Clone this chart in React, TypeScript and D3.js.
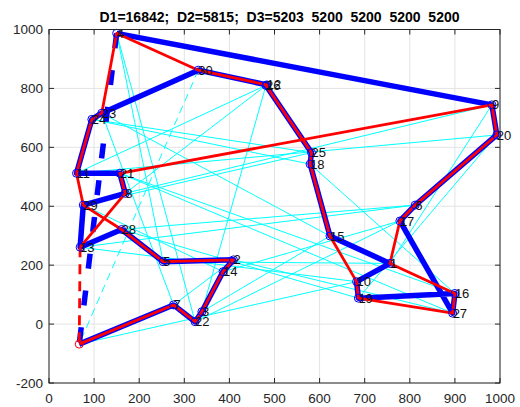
import React from 'react';
import * as d3 from 'd3';

// node coordinates (node 1..30), depot is node 0
const nodeX = [756, 409, 339, 150, 253, 812, 276, 169, 982, 682, 61, 483, 69, 386, 623, 900, 778, 579, 686, 993, 157, 324, 117, 95, 582, 481, 895, 161, 76, 331];
const nodeY = [206, 218, 42, 987, 212, 404, 65, 444, 744, 144, 512, 812, 261, 178, 299, 104, 350, 543, 88, 642, 512, 8, 716, 695, 582, 810, 37, 321, 404, 862];
const depot = [67, -68];

// tours, each starts at the depot; the return leg is drawn dashed
const tourD1 = [0, 10, 13, 6, 28, 19, 20, 11, 12, 8, 9, 1, 5, 4, 22, 17, 14, 29, 25, 24, 18, 16, 21, 27, 2, 7, 23, 15, 3, 26, 30];
const tourD2 = [0, 7, 22, 3, 14, 2, 5, 28, 29, 11, 24, 23, 4, 30, 12, 26, 25, 18, 15, 10, 19, 27, 16, 1, 17, 6, 20, 9, 21, 8, 13];
const tourD3 = [0, 7, 22, 3, 14, 2, 5, 28, 13, 29, 8, 21, 11, 24, 23, 30, 12, 26, 25, 18, 15, 1, 10, 19, 16, 27, 17, 6, 20, 9, 4];

const xTicks = [0, 100, 200, 300, 400, 500, 600, 700, 800, 900, 1000];
const yTicks = [-200, 0, 200, 400, 600, 800, 1000];
const title = 'D1=16842;  D2=5815;  D3=5203  5200  5200  5200  5200';

const W = 520;
const H = 407;
const axisColor = '#262626';
const font = '"Liberation Sans", Arial, Helvetica, sans-serif';

const pt = (id: number) => (id === 0 ? depot : [nodeX[id - 1], nodeY[id - 1]]);

export default function App() {
  const x = d3.scaleLinear().domain([0, 1000]).range([49, 500]);
  const y = d3.scaleLinear().domain([-200, 1000]).range([383, 29.5]);
  const [x0, x1] = x.range();
  const [y0, y1] = y.range();

  const line = d3
    .line<number>()
    .x((id) => x(pt(id)[0]))
    .y((id) => y(pt(id)[1]));

  // open path of the tour + closing leg back to depot
  const tourPaths = (tour: number[]) => ({
    main: line(tour) as string,
    back: line([tour[tour.length - 1], 0]) as string,
  });

  const t1 = tourPaths(tourD1);
  const t2 = tourPaths(tourD2);
  const t3 = tourPaths(tourD3);

  const ids = nodeX.map((_, i) => i + 1);

  return (
    <svg width={W} height={H} style={{ position: 'absolute', left: 0, top: 0, background: '#fff' }}>
      <rect x={0} y={0} width={W} height={H} fill="#fff" />
      {/* grid */}
      <g stroke="#e3e3e3" strokeWidth={1}>
        {xTicks.map((t) => (
          <line key={'gx' + t} x1={x(t)} x2={x(t)} y1={y0} y2={y1} />
        ))}
        {yTicks.map((t) => (
          <line key={'gy' + t} x1={x0} x2={x1} y1={y(t)} y2={y(t)} />
        ))}
      </g>

      {/* D1 tour, thin cyan */}
      <path d={t1.main} fill="none" stroke="#00ffff" strokeWidth={1} />
      <path d={t1.back} fill="none" stroke="#00ffff" strokeWidth={1} strokeDasharray="8 5" />

      {/* D3 tour, thick blue */}
      <path d={t3.main} fill="none" stroke="#0000ff" strokeWidth={5.5} strokeLinejoin="round" />
      <path d={t3.back} fill="none" stroke="#0000ff" strokeWidth={5.5} strokeDasharray="15 22" />

      {/* D2 tour, red */}
      <path d={t2.main} fill="none" stroke="#ff0000" strokeWidth={2.8} strokeLinejoin="round" />
      <path d={t2.back} fill="none" stroke="#ff0000" strokeWidth={2.8} strokeDasharray="10 7" />

      {/* markers */}
      {ids.map((id) => (
        <circle key={'c' + id} cx={x(pt(id)[0])} cy={y(pt(id)[1])} r={4} fill="none" stroke="#0000ff" strokeWidth={1} />
      ))}
      <circle cx={x(depot[0])} cy={y(depot[1])} r={4} fill="none" stroke="#ff0000" strokeWidth={1} />

      {/* node numbers */}
      <g fontFamily={font} fontSize={13} fill="#111">
        {ids.map((id) => (
          <text key={'t' + id} x={x(pt(id)[0])} y={y(pt(id)[1])} dy="0.35em">
            {id}
          </text>
        ))}
      </g>

      {/* axes box with inward ticks */}
      <rect x={x0} y={y1} width={x1 - x0} height={y0 - y1} fill="none" stroke={axisColor} strokeWidth={1} />
      <g stroke={axisColor} strokeWidth={1}>
        {xTicks.map((t) => (
          <g key={'tx' + t}>
            <line x1={x(t)} x2={x(t)} y1={y0} y2={y0 - 5} />
            <line x1={x(t)} x2={x(t)} y1={y1} y2={y1 + 5} />
          </g>
        ))}
        {yTicks.map((t) => (
          <g key={'ty' + t}>
            <line x1={x0} x2={x0 + 5} y1={y(t)} y2={y(t)} />
            <line x1={x1} x2={x1 - 5} y1={y(t)} y2={y(t)} />
          </g>
        ))}
      </g>
      <g fontFamily={font} fontSize={13.5} fill={axisColor}>
        {xTicks.map((t) => (
          <text key={'lx' + t} x={x(t)} y={403} textAnchor="middle">
            {t}
          </text>
        ))}
        {yTicks.map((t) => (
          <text key={'ly' + t} x={43} y={y(t)} dy="0.35em" textAnchor="end">
            {t}
          </text>
        ))}
      </g>

      <text
        x={(x0 + x1) / 2 + 5}
        y={22}
        textAnchor="middle"
        fontFamily={font}
        fontSize={14}
        fontWeight="bold"
        fill="#000"
        style={{ whiteSpace: 'pre' }}
      >
        {title}
      </text>
    </svg>
  );
}
